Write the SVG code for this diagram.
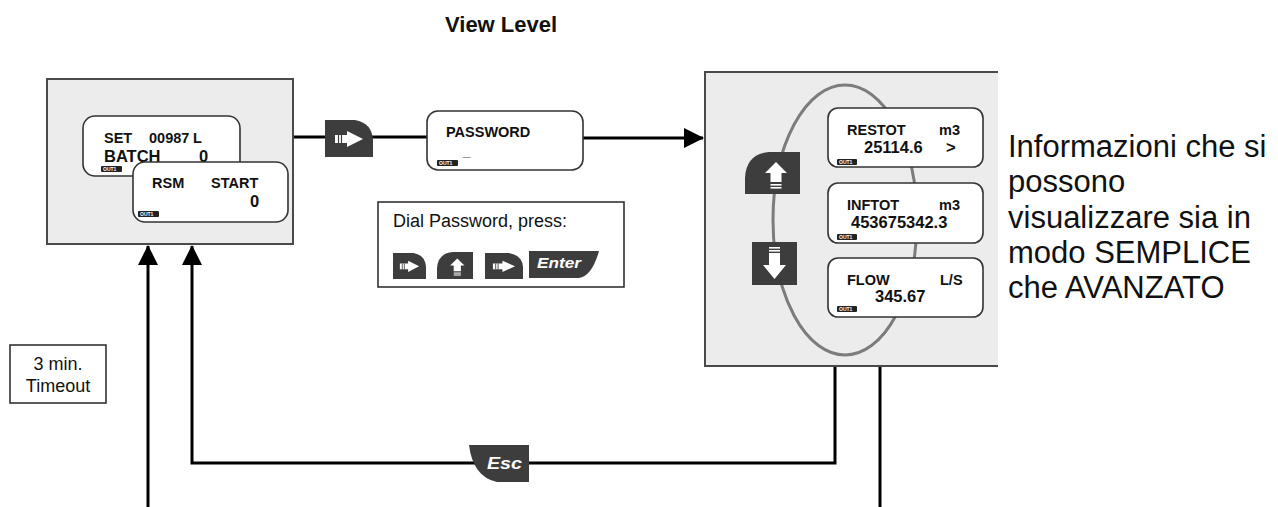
<svg xmlns="http://www.w3.org/2000/svg" xmlns:xlink="http://www.w3.org/1999/xlink" width="1278" height="507" viewBox="0 0 1278 507">
<style>
text{font-family:"Liberation Sans",Arial,sans-serif;fill:#111}
.panel{fill:#ececec;stroke:#4a4a4a;stroke-width:2}
.disp{fill:#fff;stroke:#333;stroke-width:1.6}
.box{fill:#fff;stroke:#333;stroke-width:1.6}
.key{fill:#3d3d3d}
.wh{fill:#fff}
.b14{font-weight:bold;font-size:14.5px}
.b16{font-weight:bold;font-size:16.5px}
.tag{fill:#222}
.tagt{font-size:5px;font-weight:bold;fill:#fff}
.conn{stroke:#000;stroke-width:3;fill:none}
.ell{fill:none;stroke:#7c7c7c;stroke-width:3}
.ktxt{font-weight:bold;font-style:italic;fill:#fff}
</style>
<defs>
<marker id="ah" viewBox="0 0 20 20" refX="19" refY="10" markerWidth="20" markerHeight="20" markerUnits="userSpaceOnUse" orient="auto">
<path d="M0,0 L20,10 L0,20 Z" fill="#000"/>
</marker>
<symbol id="kRight" viewBox="0 0 48 37" preserveAspectRatio="none">
<path class="key" d="M0,0 H30 Q47,3 48,20 V37 H0 Z"/>
<path class="wh" d="M10,15 H22 V11 L38,19 L22,27 V23 H10 Z"/>
<path d="M13.5,15 V23 M16.5,15 V23" stroke="#3d3d3d" stroke-width="1.2"/>
</symbol>
<symbol id="kUp" viewBox="0 0 55 42" preserveAspectRatio="none">
<path class="key" d="M0,26 Q1,2 24,0 H55 V42 H0 Z"/>
<path class="wh" d="M31,10 L42,21 H36.5 V30 H25.5 V21 H20 Z"/>
<rect class="wh" x="25.5" y="32" width="11" height="1.6"/>
<rect class="wh" x="25.5" y="35" width="11" height="1.6"/>
</symbol>
<symbol id="kDown" viewBox="0 0 45 43" preserveAspectRatio="none">
<rect class="key" x="0" y="0" width="45" height="43"/>
<rect class="wh" x="17" y="5" width="11" height="1.6"/>
<rect class="wh" x="17" y="8" width="11" height="1.6"/>
<path class="wh" d="M17,11 H28 V23 H34 L22.5,37 L11,23 H17 Z"/>
</symbol>
</defs>

<rect width="1278" height="507" fill="#fff"/>

<g id="title">
<text x="445" y="32" font-size="22" font-weight="bold">View Level</text>
</g>

<g id="connectors">
<line class="conn" x1="293" y1="137" x2="427" y2="137"/>
<line class="conn" x1="583" y1="138" x2="703" y2="138" marker-end="url(#ah)"/>
<polyline class="conn" points="835,366 835,463 192,463 192,246" marker-end="url(#ah)"/>
<polyline class="conn" points="880,366 880,507"/>
<polyline class="conn" points="148,507 148,246" marker-end="url(#ah)"/>
</g>

<g id="view-panel">
<rect class="panel" x="47" y="79" width="246" height="165"/>
<g id="disp-set">
<rect class="disp" x="83" y="116" width="157" height="60" rx="12"/>
<text class="b14" x="104" y="143">SET</text>
<text class="b14" x="149" y="143">00987</text>
<text class="b14" x="193" y="143">L</text>
<text class="b16" x="104" y="162">BATCH</text>
<text class="b16" x="199" y="162">0</text>
<rect class="tag" x="101" y="166" width="21" height="6" rx="1"/>
<text class="tagt" x="103" y="171">OUT1</text>
</g>
<g id="disp-rsm">
<rect class="disp" x="133" y="162" width="155" height="60" rx="12"/>
<text class="b14" x="152" y="188">RSM</text>
<text class="b14" x="211" y="188">START</text>
<text class="b16" x="250" y="207">0</text>
<rect class="tag" x="138" y="211" width="21" height="6" rx="1"/>
<text class="tagt" x="140" y="216">OUT1</text>
</g>
</g>

<g id="key-right-main">
<use xlink:href="#kRight" href="#kRight" x="325" y="120" width="48" height="37"/>
</g>

<g id="password">
<rect class="disp" x="427" y="111" width="156" height="59" rx="11"/>
<text class="b14" x="446" y="137" font-size="15">PASSWORD</text>
<text x="463" y="155" font-size="13" fill="#888" style="fill:#888">_</text>
<rect class="tag" x="437" y="160" width="21" height="6" rx="1"/>
<text class="tagt" x="439" y="165">OUT1</text>
</g>

<g id="dial-box">
<rect class="box" x="378" y="202" width="246" height="85"/>
<text x="393" y="227" font-size="18">Dial Password, press:</text>
<use xlink:href="#kRight" href="#kRight" x="393" y="253" width="33" height="26"/>
<use xlink:href="#kUp" href="#kUp" x="437" y="252" width="36" height="27"/>
<use xlink:href="#kRight" href="#kRight" x="485" y="253" width="38" height="26"/>
<path class="key" d="M529,251 H599 Q592,276 579,278 H529 Z"/>
<text class="ktxt" x="537" y="268" font-size="15" textLength="44" lengthAdjust="spacingAndGlyphs">Enter</text>
</g>

<g id="menu-panel">
<rect x="705" y="72" width="293" height="294" fill="#ececec"/>
<polyline points="998,72 705,72 705,366 998,366" fill="none" stroke="#4a4a4a" stroke-width="2"/>
<ellipse class="ell" cx="845" cy="220" rx="72" ry="135"/>
<use xlink:href="#kUp" href="#kUp" x="745" y="152" width="55" height="42"/>
<use xlink:href="#kDown" href="#kDown" x="752" y="242" width="45" height="43"/>
<g id="disp-restot">
<rect class="disp" x="828" y="108" width="155" height="59" rx="10"/>
<text class="b14" x="847" y="135" font-size="14">RESTOT</text>
<text class="b14" x="939" y="135" font-size="14">m3</text>
<text class="b16" x="864" y="153">25114.6</text>
<text class="b16" x="946" y="153">&gt;</text>
<rect class="tag" x="837" y="159" width="20" height="6" rx="1"/>
<text class="tagt" x="839" y="164">OUT1</text>
</g>
<g id="disp-inftot">
<rect class="disp" x="828" y="183" width="155" height="60" rx="10"/>
<text class="b14" x="847" y="210" font-size="14">INFTOT</text>
<text class="b14" x="939" y="210" font-size="14">m3</text>
<text class="b16" x="851" y="228">453675342.3</text>
<rect class="tag" x="837" y="234" width="20" height="6" rx="1"/>
<text class="tagt" x="839" y="239">OUT1</text>
</g>
<g id="disp-flow">
<rect class="disp" x="828" y="258" width="155" height="59" rx="10"/>
<text class="b14" x="847" y="285" font-size="14">FLOW</text>
<text class="b14" x="940" y="285" font-size="14">L/S</text>
<text class="b16" x="875" y="302">345.67</text>
<rect class="tag" x="837" y="306" width="20" height="6" rx="1"/>
<text class="tagt" x="839" y="311">OUT1</text>
</g>
</g>

<g id="timeout">
<rect class="box" x="10" y="345" width="96" height="58"/>
<text x="58" y="370" font-size="18" text-anchor="middle">3 min.</text>
<text x="58" y="392" font-size="18" text-anchor="middle">Timeout</text>
</g>

<g id="esc-key">
<path class="key" d="M469,445 H529 V482 H497 Q473,477 469,445 Z"/>
<text class="ktxt" x="487" y="469" font-size="17" textLength="35" lengthAdjust="spacingAndGlyphs">Esc</text>
</g>

<g id="note">
<text font-size="31" x="1008">
<tspan x="1008" y="157">Informazioni che si</tspan>
<tspan x="1008" y="192">possono</tspan>
<tspan x="1008" y="228">visualizzare sia in</tspan>
<tspan x="1008" y="263">modo SEMPLICE</tspan>
<tspan x="1008" y="298">che AVANZATO</tspan>
</text>
</g>
</svg>
